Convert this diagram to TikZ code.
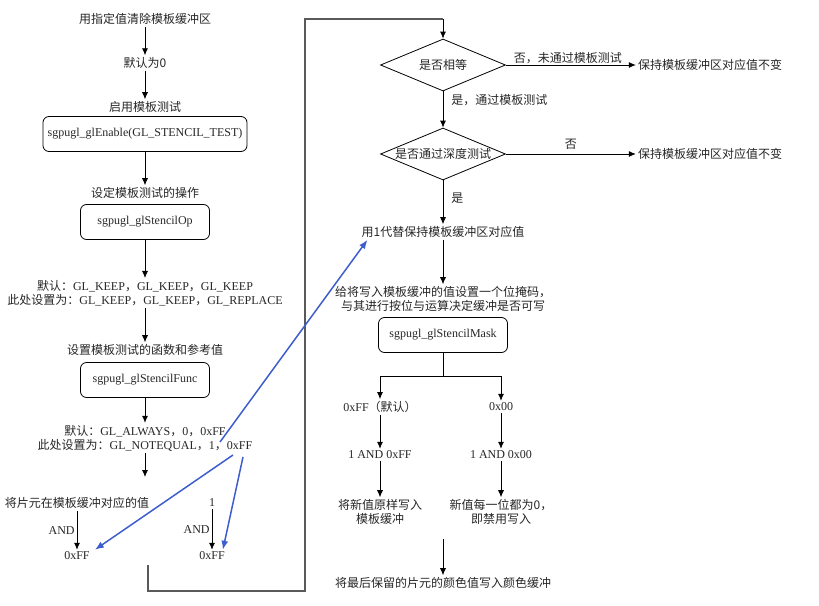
\documentclass[tikz,border=0pt]{standalone}
\usepackage{fontspec}
\setmainfont{Liberation Serif}
\newfontfamily\cjk{Noto Sans CJK SC}
\usetikzlibrary{arrows.meta, shapes.geometric}
\newcommand{\zh}[1]{{\cjk #1}}
\definecolor{linkblue}{RGB}{61,94,204}

\begin{document}
\begin{tikzpicture}[x=1pt, y=-1pt,
        every node/.style = {font=\fontsize{12}{14}\selectfont, inner sep=2pt, text=black!85},
        note/.style = {align=center, font=\cjk\fontsize{12}{14}\selectfont},
        mixed/.style = {align=center},
        func/.style = {draw, rounded corners=6pt, minimum width=129pt, minimum height=35pt, line width=0.8pt},
        test/.style = {draw, diamond, aspect=2.4, inner sep=0pt, minimum width=125pt, minimum height=52pt, line width=0.8pt, font=\cjk\fontsize{12}{14}\selectfont},
        flow/.style = {-{Latex[length=7pt,width=6pt]}, line width=0.8pt},
        hint/.style = {-{Latex[length=9pt,width=7pt]}, line width=1.5pt, draw=linkblue}]
            \useasboundingbox (0,0) rectangle (819,605);

            % left column: setting up the stencil test
            \node[note] (clear) at (145,19) {用指定值清除模板缓冲区};
            \node[note] (zero) at (145,63) {默认为0};
            \node[note] (enable) at (145,107) {启用模板测试};
            \node[func, minimum width=204pt] (glEnable) at (145,134) {sgpugl\_glEnable(GL\_STENCIL\_TEST)};
            \node[note] (opset) at (145,193) {设定模板测试的操作};
            \node[func] (glOp) at (145,222) {sgpugl\_glStencilOp};
            \node[mixed] (opval) at (145,293) {\zh{默认：}GL\_KEEP\zh{，}GL\_KEEP\zh{，}GL\_KEEP\\
                \zh{此处设置为：}GL\_KEEP\zh{，}GL\_KEEP\zh{，}GL\_REPLACE};
            \node[note] (funcset) at (145,350) {设置模板测试的函数和参考值};
            \node[func] (glFunc) at (145,380) {sgpugl\_glStencilFunc};
            \node[mixed] (funcval) at (145,438) {\zh{默认：}GL\_ALWAYS\zh{，}0\zh{，}0xFF\\
                \zh{此处设置为：}GL\_NOTEQUAL\zh{，}1\zh{，}0xFF};
            \coordinate (funcend) at (145,477);
            \node[note] (bufval) at (77,503) {将片元在模板缓冲对应的值};
            \node (refval) at (212,503) {1};
            \node (maskL) at (77,556) {0xFF};
            \node (maskR) at (212,556) {0xFF};

            \path[flow] (clear) edge (zero);
            \path[flow] (zero) edge (enable);
            \path[flow] (glEnable) edge (opset);
            \path[flow] (glOp) edge (opval);
            \path[flow] (opval) edge (funcset);
            \path[flow] (glFunc) edge (funcval);
            \path[flow] (funcval) edge (funcend);
            \path[flow] (bufval) edge node[left] {AND} (maskL);
            \path[flow] (refval) edge node[left] {AND} (maskR);

            % right column: the two tests and the write mask
            \node[test] (equal) at (443,65) {是否相等};
            \node[note] (keep1) at (710,65) {保持模板缓冲区对应值不变};
            \node[test] (depth) at (443,154) {是否通过深度测试};
            \node[note] (keep2) at (710,154) {保持模板缓冲区对应值不变};
            \node[note] (replace) at (443,232) {用1代替保持模板缓冲区对应值};
            \node[note] (maskset) at (443,299) {给将写入模板缓冲的值设置一个位掩码，\\与其进行按位与运算决定缓冲是否可写};
            \node[func] (glMask) at (443,335) {sgpugl\_glStencilMask};
            \node (full) at (380,407) {0xFF\zh{（默认）}};
            \node (none) at (501,407) {0x00};
            \node (fullAnd) at (380,455) {1 AND 0xFF};
            \node (noneAnd) at (501,455) {1 AND 0x00};
            \node[note] (written) at (380,512) {将新值原样写入\\模板缓冲};
            \node[note] (blocked) at (501,512) {新值每一位都为0，\\即禁用写入};
            \coordinate (merge) at (443,539);
            \node[note] (colour) at (443,583) {将最后保留的片元的颜色值写入颜色缓冲};

            \path[flow] (equal) edge node[note, above, inner sep=1pt, xshift=-3pt] {否，未通过模板测试} (keep1);
            \path[flow] (equal) edge node[note, right=6pt, pos=.25] {是，通过模板测试} (depth);
            \path[flow] (depth) edge node[note, above, inner sep=4pt] {否} (keep2);
            \path[flow] (depth) edge node[note, right=6pt, pos=.4] {是} (replace);
            \path[flow] (replace) edge (maskset);
            \draw[flow] (glMask.south) -- ++(0,23) -| (full.north);
            \draw[flow] (glMask.south) -- ++(0,23) -| (none.north);
            \path[flow] (full) edge (fullAnd);
            \path[flow] (none) edge (noneAnd);
            \path[flow] (fullAnd) edge (written);
            \path[flow] (noneAnd) edge (blocked);
            \path[flow] (merge) edge (colour);

            % loop from the bottom of the left column into the first test
            \coordinate (loopstart) at (148,565);
            \coordinate (looptop) at (443,19);
            \draw[draw=black!65, line width=1.2pt] (loopstart) |- (305,591) |- (looptop);
            \path[flow] (looptop) edge (equal);

            % blue hints: where the reference value and mask go
            \coordinate (hintA) at (220,442);
            \coordinate (hintB) at (233,455);
            \coordinate (hintC) at (243,457);
            \draw[hint] (hintA) -- ([xshift=8pt]replace.south west);
            \draw[hint] (hintB) -- ([xshift=3pt]maskL.north east);
            \draw[hint] (hintC) -- ([xshift=-4pt]maskR.north east);
        \end{tikzpicture}
\end{document}
